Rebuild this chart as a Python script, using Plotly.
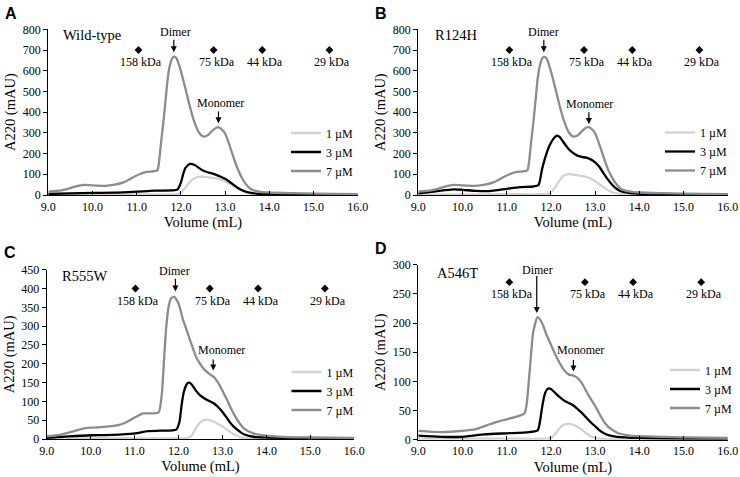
import plotly.graph_objects as go

# ---------------- data ----------------
# Panel A (Wild-type)
vol_A_7 = [9.0, 9.3, 9.6, 9.8, 10.0, 10.3, 10.5, 10.7, 10.9, 11.0, 11.2, 11.4, 11.47, 11.5, 11.55, 11.6, 11.65, 11.7, 11.75, 11.8, 11.84, 11.9,
           12.0, 12.1, 12.2, 12.3, 12.4, 12.5, 12.6, 12.7, 12.8, 12.85, 12.9, 13.0, 13.1, 13.2, 13.3, 13.4, 13.5, 13.6, 13.8, 14.0, 14.5, 15.0, 16.0]
abs_A_7 = [16, 22, 40, 49, 46, 44, 50, 61, 83, 94, 110, 115, 120, 150, 250, 345, 450, 560, 625, 658, 668, 660,
           598, 515, 430, 355, 305, 283, 287, 308, 325, 327, 322, 297, 240, 175, 118, 75, 45, 27, 15, 12, 9, 7, 4]
vol_A_3 = [9.0, 9.5, 10.0, 10.5, 11.0, 11.4, 11.8, 11.92, 12.0, 12.05, 12.1, 12.2, 12.3, 12.4, 12.5, 12.6, 12.7, 12.8, 12.9,
           13.0, 13.1, 13.2, 13.3, 13.4, 13.5, 13.7, 14.0, 15.0, 16.0]
abs_A_3 = [5, 8, 10, 11, 16, 21, 22, 26, 60, 100, 130, 150, 146, 132, 118, 110, 104, 97, 88,
           78, 64, 48, 33, 22, 14, 7, 4, 2, 2]
vol_A_1 = [9.0, 10.0, 11.0, 11.9, 12.0, 12.1, 12.2, 12.3, 12.4, 12.5, 12.6, 12.7, 12.8, 12.9, 13.0, 13.1, 13.2, 13.3, 13.4, 13.5,
           13.7, 14.0, 16.0]
abs_A_1 = [2, 3, 3, 4, 12, 35, 62, 80, 87, 88, 86, 84, 80, 74, 66, 55, 42, 30, 18, 10, 5, 3, 2]

# Panel B (R124H)
vol_B_7 = vol_A_7
abs_B_7 = [16, 22, 40, 49, 46, 44, 50, 61, 83, 94, 110, 115, 120, 150, 250, 345, 450, 560, 625, 658, 667, 660,
           598, 515, 430, 355, 305, 283, 287, 308, 326, 328, 323, 298, 242, 178, 120, 78, 47, 28, 16, 12, 9, 7, 4]
vol_B_3 = [9.0, 9.4, 9.8, 10.0, 10.3, 10.6, 11.0, 11.3, 11.6, 11.72, 11.8, 11.9, 12.0, 12.1, 12.15, 12.2, 12.3, 12.4, 12.5, 12.6,
           12.7, 12.8, 12.9, 13.0, 13.1, 13.2, 13.3, 13.4, 13.5, 13.6, 13.8, 14.0, 15.0, 16.0]
abs_B_3 = [8, 18, 27, 25, 20, 19, 30, 38, 41, 48, 125, 200, 252, 282, 287, 280, 250, 222, 203, 190,
           184, 180, 172, 158, 135, 102, 72, 46, 28, 17, 9, 6, 3, 2]
vol_B_1 = [9.0, 10.0, 11.0, 11.9, 12.0, 12.1, 12.2, 12.3, 12.4, 12.5, 12.6, 12.7, 12.8, 12.9, 13.0, 13.1, 13.2, 13.3, 13.4, 13.6,
           14.0, 16.0]
abs_B_1 = [2, 3, 4, 5, 12, 38, 72, 95, 101, 99, 95, 92, 87, 79, 67, 52, 36, 22, 12, 5, 3, 2]

# Panel C (R555W)
vol_C_7 = [9.0, 9.3, 9.6, 9.8, 10.0, 10.3, 10.6, 10.8, 11.0, 11.2, 11.4, 11.55, 11.62, 11.68, 11.73, 11.78, 11.83, 11.9,
           12.0, 12.1, 12.2, 12.3, 12.4, 12.5, 12.6, 12.7, 12.8, 12.9, 13.0, 13.1, 13.2, 13.3, 13.4, 13.5, 13.7, 14.0, 14.5, 15.0, 16.0]
abs_C_7 = [7, 11, 20, 27, 30, 32, 36, 44, 57, 68, 68, 71, 120, 230, 310, 355, 374, 378,
           360, 318, 284, 250, 218, 198, 183, 173, 165, 150, 128, 105, 80, 58, 40, 27, 15, 9, 5, 4, 3]
vol_C_3 = [9.0, 9.5, 10.0, 10.5, 11.0, 11.3, 11.6, 11.95, 12.02, 12.07, 12.12, 12.2, 12.25, 12.3, 12.4, 12.5, 12.6, 12.7, 12.8,
           12.9, 13.0, 13.1, 13.2, 13.3, 13.4, 13.5, 13.7, 14.0, 15.0, 16.0]
abs_C_3 = [3, 7, 10, 11, 15, 21, 22, 25, 45, 90, 125, 148, 150, 145, 128, 115, 107, 101, 95,
           85, 72, 56, 40, 28, 19, 12, 6, 4, 2, 2]
vol_C_1 = [9.0, 10.0, 11.0, 12.2, 12.3, 12.4, 12.5, 12.6, 12.7, 12.8, 12.9, 13.0, 13.1, 13.2, 13.3, 13.4, 13.6, 14.0, 16.0]
abs_C_1 = [1, 2, 2, 3, 9, 30, 45, 51, 50, 46, 40, 33, 25, 17, 10, 5, 2, 2, 1]

# Panel D (A546T)
vol_D_7 = [9.0, 9.5, 10.0, 10.3, 10.6, 10.8, 11.0, 11.2, 11.4, 11.45, 11.5, 11.55, 11.6, 11.7, 11.8, 11.9, 12.0, 12.1, 12.2,
           12.3, 12.4, 12.5, 12.6, 12.7, 12.8, 12.9, 13.0, 13.1, 13.2, 13.3, 13.5, 13.8, 14.0, 15.0, 16.0]
abs_D_7 = [15, 13, 15, 18, 26, 31, 35, 39, 45, 60, 100, 145, 185, 210, 200, 180, 163, 146, 131,
           119, 112, 110, 106, 97, 83, 70, 58, 44, 31, 22, 12, 7, 6, 4, 3]
vol_D_3 = [9.0, 9.5, 10.0, 10.5, 11.0, 11.5, 11.7, 11.75, 11.8, 11.85, 11.9, 11.95, 12.0, 12.1, 12.2, 12.3, 12.4, 12.5, 12.6,
           12.7, 12.8, 12.9, 13.0, 13.1, 13.2, 13.3, 13.5, 14.0, 15.0, 16.0]
abs_D_3 = [7, 5, 5, 9, 11, 13, 16, 30, 55, 75, 85, 88, 87, 80, 73, 67, 63, 59, 53,
           46, 38, 30, 23, 16, 11, 8, 5, 3, 2, 2]
vol_D_1 = [9.0, 10.0, 11.0, 12.0, 12.1, 12.2, 12.3, 12.4, 12.5, 12.6, 12.7, 12.8, 12.9, 13.0, 13.2, 14.0, 16.0]
abs_D_1 = [2, 2, 2, 3, 10, 20, 26, 27, 26, 22, 17, 11, 6, 3, 1, 1, 1]

conc_labels = ["1 µM", "3 µM", "7 µM"]
panel_names = ["Wild-type", "R124H", "R555W", "A546T"]
panel_letters = ["A", "B", "C", "D"]
y_max = [800, 800, 450, 300]
y_step = [100, 100, 50, 50]
x_ticks = [9.0, 10.0, 11.0, 12.0, 13.0, 14.0, 15.0, 16.0]

std_labels = ["158 kDa", "75 kDa", "44 kDa", "29 kDa"]
std_vol = [[11.04, 12.74, 13.84, 15.36], [11.06, 12.75, 13.84, 15.36],
           [11.02, 12.71, 13.81, 15.33], [11.06, 12.77, 13.86, 15.40]]
std_y = [700, 700, 400, 270]

# arrows: (text x, text y, arrow x, tail y, tip y)
dimer_arrows = [(11.88, 786, 11.84, 757, 689), (11.84, 786, 11.84, 757, 689),
                (11.90, 446, 11.93, 430, 392), (11.70, 291, 11.68, 283, 217)]
monomer_arrows = [(12.90, 443, 12.85, 410, 346), (12.88, 441, 12.86, 407, 343),
                  (12.98, 237, 12.79, 215, 182), (12.67, 154, 12.51, 139, 117)]
name_pos = [(9.29, 773), (9.34, 773), (9.30, 434), (9.38, 286)]

series = [
    [(vol_A_1, abs_A_1), (vol_A_3, abs_A_3), (vol_A_7, abs_A_7)],
    [(vol_B_1, abs_B_1), (vol_B_3, abs_B_3), (vol_B_7, abs_B_7)],
    [(vol_C_1, abs_C_1), (vol_C_3, abs_C_3), (vol_C_7, abs_C_7)],
    [(vol_D_1, abs_D_1), (vol_D_3, abs_D_3), (vol_D_7, abs_D_7)],
]

# ---------------- styling / layout ----------------
W, H = 740, 477
colors = ["#d2d2d2", "#000000", "#8c8c8c"]
serif = "Liberation Serif, Times New Roman, serif"

# plot areas in pixels: (left, right, top, bottom)
areas = [(48.3, 357.7, 29.3, 195.0), (418.3, 727.7, 29.3, 195.0),
         (46.7, 354.3, 269.7, 439.0), (418.3, 727.7, 264.7, 439.7)]
legend_pos = [(286, 152.0), (660, 151.5), (286.5, 391), (665, 389)]
letter_pos = [(3, 3), (373, 3), (2, 242), (373, 238)]

fig = go.Figure()
layout = dict(width=W, height=H, margin=dict(l=0, r=0, t=0, b=0, autoexpand=False),
              paper_bgcolor="white", plot_bgcolor="white",
              font=dict(family=serif, size=12, color="black"))
annotations = []

for p in range(4):
    sfx = "" if p == 0 else str(p + 1)
    xa, ya = "x" + sfx, "y" + sfx
    lg = "legend" + sfx
    for k in range(3):
        xs, ys = series[p][k]
        fig.add_trace(go.Scatter(x=xs, y=ys, mode="lines", name=conc_labels[k],
                                 line=dict(color=colors[k], width=2.3, shape="spline", smoothing=0.6),
                                 xaxis=xa, yaxis=ya, legend=lg, showlegend=True))
    fig.add_trace(go.Scatter(x=std_vol[p], y=[std_y[p]] * 4, mode="markers",
                             marker=dict(symbol="diamond", size=6, color="black"),
                             xaxis=xa, yaxis=ya, showlegend=False, hoverinfo="skip"))
    l, r, t, b = areas[p]
    layout["xaxis" + sfx] = dict(domain=[l / W, r / W], anchor=ya, range=[9.0, 16.0], automargin=False,
                                 tickvals=x_ticks, ticktext=[f"{v:.1f}" for v in x_ticks],
                                 ticks="inside", ticklen=4, tickwidth=1, tickcolor="black",
                                 showline=True, linecolor="black", linewidth=1.3,
                                 showgrid=False, zeroline=False,
                                 tickfont=dict(family=serif, size=12),
                                 title=dict(text="Volume (mL)", font=dict(family=serif, size=14.5), standoff=4))
    layout["yaxis" + sfx] = dict(domain=[1 - b / H, 1 - t / H], anchor=xa, range=[0, y_max[p]], automargin=False,
                                 dtick=y_step[p], tick0=0,
                                 ticks="outside", ticklen=4, tickwidth=1, tickcolor="black",
                                 showline=True, linecolor="black", linewidth=1.3,
                                 showgrid=False, zeroline=False,
                                 tickfont=dict(family=serif, size=12),
                                 title=dict(text="A220 (mAU)", font=dict(family=serif, size=14.5), standoff=3))
    lx, ly = legend_pos[p]
    layout[lg] = dict(x=lx / W, y=1 - ly / H, xanchor="left", yanchor="middle",
                      bgcolor="rgba(0,0,0,0)", font=dict(family=serif, size=12),
                      itemwidth=30, tracegroupgap=0)
    # standard markers labels
    for v, lab in zip(std_vol[p], std_labels):
        annotations.append(dict(x=v, y=std_y[p], xref=xa, yref=ya, text=lab, showarrow=False,
                                xshift=3, yshift=-12, font=dict(family=serif, size=12)))
    # Dimer / Monomer arrows and labels
    for (tx, ty, axv, tail, tip), word in ((dimer_arrows[p], "Dimer"), (monomer_arrows[p], "Monomer")):
        annotations.append(dict(x=tx, y=ty, xref=xa, yref=ya, text=word, showarrow=False,
                                font=dict(family=serif, size=12)))
        annotations.append(dict(x=axv, y=tip, ax=axv, ay=tail, xref=xa, yref=ya, axref=xa, ayref=ya,
                                text="", showarrow=True, arrowhead=2, arrowsize=1, arrowwidth=1.2,
                                arrowcolor="black"))
    nx, ny = name_pos[p]
    annotations.append(dict(x=nx, y=ny, xref=xa, yref=ya, text=panel_names[p], showarrow=False,
                            xanchor="left", font=dict(family=serif, size=14.5)))
    px_, py_ = letter_pos[p]
    annotations.append(dict(x=px_ / W, y=1 - py_ / H, xref="paper", yref="paper", text="<b>" + panel_letters[p] + "</b>",
                            showarrow=False, xanchor="left", yanchor="top",
                            font=dict(family="Liberation Sans, Arial, sans-serif", size=16)))

layout["annotations"] = annotations
fig.update_layout(**layout)
fig.write_html("out.html", config={"displayModeBar": False},
               post_script="document.body.style.margin='0';document.body.style.overflow='hidden';")
